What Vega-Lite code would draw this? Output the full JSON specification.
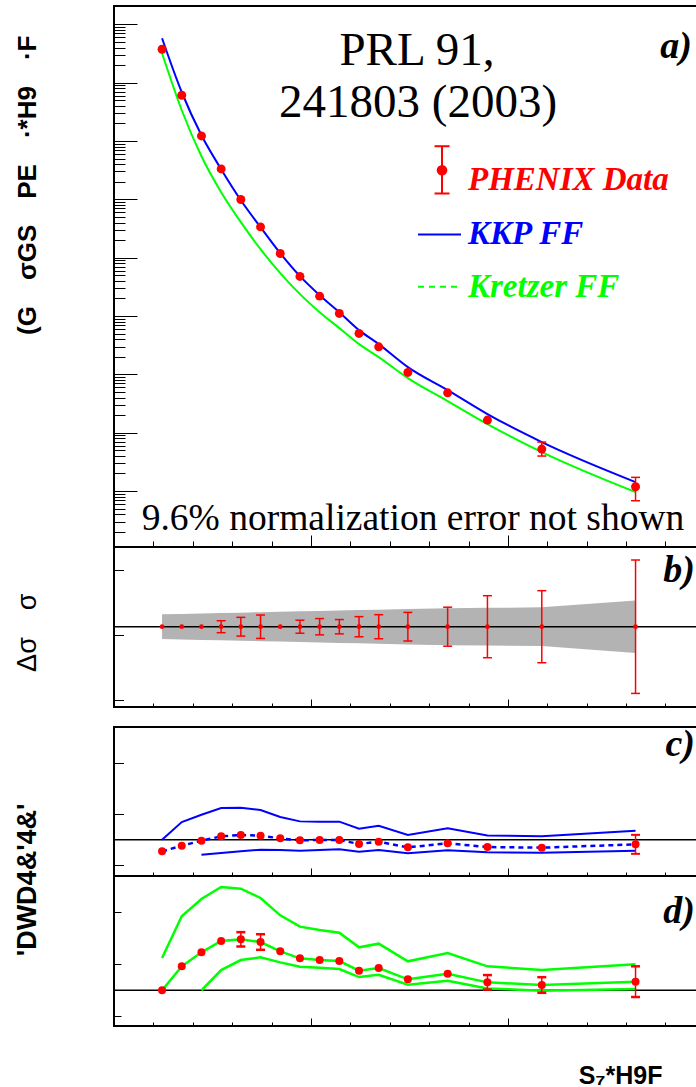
{
  "$schema": "https://vega.github.io/schema/vega-lite/v6.json",
  "padding": {"left": 12, "top": 5, "right": 0, "bottom": 0},
  "background": "#ffffff",
  "config": {
    "view": {"stroke": "#000000", "strokeWidth": 2},
    "axis": {"grid": false, "labels": false, "domain": false, "tickColor": "#000000", "tickWidth": 1}
  },
  "datasets": {
    "pts": [
      {"pt": 1.22, "a": 0.3729, "KKP FF": 0.5757, "Kretzer FF": 0.3185, "band_lo": -0.19, "band_hi": 0.19, "c": -0.227, "c_up": 0, "d": 0, "d_up": 0.622},
      {"pt": 1.72, "a": 0.06076, "KKP FF": 0.06842, "Kretzer FF": 0.03363, "band_lo": -0.197, "band_hi": 0.197, "c": -0.117, "c_up": 0.344, "d": 0.462, "d_up": 1.423},
      {"pt": 2.22, "a": 0.012207, "KKP FF": 0.012548, "Kretzer FF": 0.00548, "band_lo": -0.203, "band_hi": 0.203, "c": -0.02, "c_up": 0.487, "c_dn": -0.292, "d": 0.731, "d_up": 1.756, "d_dn": 0},
      {"pt": 2.72, "a": 0.00332, "KKP FF": 0.003281, "Kretzer FF": 0.001325, "band_lo": -0.21, "band_hi": 0.21, "b_elo": -0.092, "b_ehi": 0.092, "c": 0.065, "c_up": 0.617, "c_dn": -0.26, "d": 0.949, "d_up": 1.987, "d_dn": 0.391},
      {"pt": 3.22, "a": 0.0009931, "KKP FF": 0.000966, "Kretzer FF": 0.0004056, "band_lo": -0.216, "band_hi": 0.216, "b_elo": -0.144, "b_ehi": 0.144, "c": 0.091, "c_up": 0.623, "c_dn": -0.227, "d": 0.981, "d_up": 1.955, "d_dn": 0.583, "d_elo": 0.843, "d_ehi": 1.119},
      {"pt": 3.72, "a": 0.000337, "KKP FF": 0.000333, "Kretzer FF": 0.0001398, "band_lo": -0.223, "band_hi": 0.223, "b_elo": -0.18, "b_ehi": 0.18, "c": 0.078, "c_up": 0.578, "c_dn": -0.195, "d": 0.929, "d_up": 1.776, "d_dn": 0.635, "d_elo": 0.779, "d_ehi": 1.079},
      {"pt": 4.22, "a": 0.000118, "KKP FF": 0.0001194, "Kretzer FF": 0.0000543, "band_lo": -0.229, "band_hi": 0.229, "c": 0.026, "c_up": 0.442, "c_dn": -0.2, "d": 0.75, "d_up": 1.442, "d_dn": 0.538},
      {"pt": 4.72, "a": 0.00004763, "KKP FF": 0.0000482, "Kretzer FF": 0.0000237, "band_lo": -0.236, "band_hi": 0.236, "b_elo": -0.1, "b_ehi": 0.1, "c": -0.013, "c_up": 0.357, "c_dn": -0.214, "d": 0.615, "d_up": 1.224, "d_dn": 0.455},
      {"pt": 5.22, "a": 0.00002191, "KKP FF": 0.00002278, "Kretzer FF": 0.00001165, "band_lo": -0.242, "band_hi": 0.242, "b_elo": -0.125, "b_ehi": 0.125, "c": -0.006, "c_up": 0.351, "c_dn": -0.2, "d": 0.583, "d_up": 1.16, "d_dn": 0.436},
      {"pt": 5.72, "a": 0.00001107, "KKP FF": 0.00001165, "Kretzer FF": 0.0000062, "band_lo": -0.249, "band_hi": 0.249, "b_elo": -0.11, "b_ehi": 0.11, "c": -0.006, "c_up": 0.351, "c_dn": -0.188, "d": 0.564, "d_up": 1.109, "d_dn": 0.41},
      {"pt": 6.22, "a": 0.000005029, "KKP FF": 0.00000573, "Kretzer FF": 0.0000033, "band_lo": -0.256, "band_hi": 0.256, "b_elo": -0.155, "b_ehi": 0.155, "c": -0.084, "c_up": 0.214, "c_dn": -0.234, "d": 0.378, "d_up": 0.827, "d_dn": 0.256},
      {"pt": 6.72, "a": 0.000002965, "KKP FF": 0.0000033, "Kretzer FF": 0.000001974, "band_lo": -0.262, "band_hi": 0.262, "b_elo": -0.185, "b_ehi": 0.185, "c": -0.039, "c_up": 0.273, "c_dn": -0.201, "d": 0.429, "d_up": 0.897, "d_dn": 0.301},
      {"pt": 7.46, "a": 0.00000108, "KKP FF": 0.000001331, "Kretzer FF": 0.000000862, "band_lo": -0.272, "band_hi": 0.272, "b_elo": -0.22, "b_ehi": 0.22, "c": -0.149, "c_up": 0.091, "c_dn": -0.266, "d": 0.212, "d_up": 0.558, "d_dn": 0.109},
      {"pt": 8.47, "a": 0.000000483, "KKP FF": 0.000000537, "Kretzer FF": 0.000000348, "band_lo": -0.285, "band_hi": 0.285, "b_elo": -0.3, "b_ehi": 0.3, "c": -0.071, "c_up": 0.221, "c_dn": -0.208, "d": 0.321, "d_up": 0.718, "d_dn": 0.186},
      {"pt": 9.48, "a": 0.0000001646, "KKP FF": 0.0000002085, "Kretzer FF": 0.0000001405, "band_lo": -0.29, "band_hi": 0.29, "b_elo": -0.477, "b_ehi": 0.477, "c": -0.143, "c_up": 0.084, "c_dn": -0.247, "d": 0.154, "d_up": 0.462, "d_dn": 0.038, "d_elo": 0.014, "d_ehi": 0.294},
      {"pt": 10.86, "a": 0.00000005241, "a_lo": 0.0000000398, "a_hi": 0.0000000691, "KKP FF": 0.0000000691, "Kretzer FF": 0.0000000466, "band_lo": -0.298, "band_hi": 0.298, "b_elo": -0.554, "b_ehi": 0.554, "c": -0.156, "c_up": 0.065, "c_dn": -0.253, "d": 0.103, "d_up": 0.391, "d_dn": -0.006, "d_elo": -0.047, "d_ehi": 0.253},
      {"pt": 13.24, "a": 0.00000001185, "a_lo": 0.00000000682, "a_hi": 0.00000001717, "KKP FF": 0.00000001426, "Kretzer FF": 0.00000000961, "band_lo": -0.405, "band_hi": 0.405, "b_elo": -1.026, "b_ehi": 1.026, "c": -0.091, "c_up": 0.175, "c_dn": -0.214, "c_elo": -0.276, "c_ehi": 0.094, "d": 0.167, "d_up": 0.5, "d_dn": 0.026, "d_elo": -0.128, "d_ehi": 0.462}
    ]
  },
  "bounds": "full",
  "spacing": 15,
  "resolve": {"scale": {"x": "independent", "y": "independent"}},
  "vconcat": [
    {
      "bounds": "flush",
      "spacing": 0,
      "resolve": {"scale": {"x": "independent", "y": "independent"}},
      "vconcat": [
        {
          "width": 583,
          "height": 541,
          "data": {"name": "pts"},
          "encoding": {
            "x": {"field": "pt", "type": "quantitative", "scale": {"domain": [0, 14.8], "nice": false, "zero": false},
              "axis": {"values": [1,2,3,4,5,6,7,8,9,10,11,12,13,14], "tickSize": {"condition": {"test": "datum.value % 5 === 0", "value": -12}, "value": -6}, "title": null}}
          },
          "layer": [
            {
              "transform": [{"fold": ["KKP FF", "Kretzer FF"], "as": ["series", "val"]}],
              "mark": {"type": "line", "interpolate": "monotone", "strokeWidth": 2},
              "encoding": {
                "y": {"field": "val", "type": "quantitative", "scale": {"type": "log", "domain": [1.099e-9, 2.058], "nice": false},
                  "axis": {
                    "values": [2e-9,3e-9,4e-9,5e-9,6e-9,7e-9,8e-9,9e-9,1e-8,2e-8,3e-8,4e-8,5e-8,6e-8,7e-8,8e-8,9e-8,1e-7,2e-7,3e-7,4e-7,5e-7,6e-7,7e-7,8e-7,9e-7,1e-6,2e-6,3e-6,4e-6,5e-6,6e-6,7e-6,8e-6,9e-6,1e-5,2e-5,3e-5,4e-5,5e-5,6e-5,7e-5,8e-5,9e-5,1e-4,2e-4,3e-4,4e-4,5e-4,6e-4,7e-4,8e-4,9e-4,0.001,0.002,0.003,0.004,0.005,0.006,0.007,0.008,0.009,0.01,0.02,0.03,0.04,0.05,0.06,0.07,0.08,0.09,0.1,0.2,0.3,0.4,0.5,0.6,0.7,0.8,0.9,1],
                    "tickSize": {"condition": {"test": "abs(log(datum.value)/LN10 - round(log(datum.value)/LN10)) < 0.01", "value": -23}, "value": -11},
                    "title": "(G\u2003σGS\u2003PE\u2003·*H9\u2003·F",
                    "titleFont": "Liberation Sans", "titleFontWeight": "bold", "titleFontSize": 26, "titleColor": "#000000",
                    "titleAngle": 270, "titleAlign": "right", "titleBaseline": "middle", "titleX": -87, "titleY": 29
                  }},
                "color": {"field": "series", "type": "nominal",
                  "scale": {"domain": ["KKP FF", "Kretzer FF"], "range": ["#0000ff", "#00ff00"]},
                  "legend": null}
              }
            },
            {
              "transform": [{"filter": "isValid(datum.a_lo)"}],
              "mark": {"type": "rule", "color": "#ff0000", "strokeWidth": 1.5},
              "encoding": {
                "y": {"field": "a_lo", "type": "quantitative", "scale": {"type": "log", "domain": [1.099e-9, 2.058], "nice": false}},
                "y2": {"field": "a_hi"}
              }
            },
            {
              "transform": [{"filter": "isValid(datum.a_lo)"}],
              "mark": {"type": "tick", "orient": "horizontal", "size": 9, "thickness": 1.5, "color": "#ff0000", "opacity": 1},
              "encoding": {"y": {"field": "a_lo", "type": "quantitative", "scale": {"type": "log", "domain": [1.099e-9, 2.058], "nice": false}}}
            },
            {
              "transform": [{"filter": "isValid(datum.a_hi)"}],
              "mark": {"type": "tick", "orient": "horizontal", "size": 9, "thickness": 1.5, "color": "#ff0000", "opacity": 1},
              "encoding": {"y": {"field": "a_hi", "type": "quantitative", "scale": {"type": "log", "domain": [1.099e-9, 2.058], "nice": false}}}
            },
            {
              "mark": {"type": "point", "filled": true, "size": 80, "color": "#ff0000", "opacity": 1},
              "encoding": {"y": {"field": "a", "type": "quantitative", "scale": {"type": "log", "domain": [1.099e-9, 2.058], "nice": false}}}
            },
            {
              "transform": [{"filter": "datum.pt === 1.22"}],
              "mark": {"type": "text", "text": "PRL 91,", "font": "Liberation Serif", "fontSize": 47, "align": "center", "baseline": "alphabetic", "color": "#000000"},
              "encoding": {"x": {"datum": 7.69}, "y": {"datum": 0.1985}}
            },
            {
              "transform": [{"filter": "datum.pt === 1.22"}],
              "mark": {"type": "text", "text": "241803 (2003)", "font": "Liberation Serif", "fontSize": 47, "align": "center", "baseline": "alphabetic", "color": "#000000"},
              "encoding": {"x": {"datum": 7.72}, "y": {"datum": 0.02582}}
            },
            {
              "transform": [{"filter": "datum.pt === 1.22"}],
              "mark": {"type": "text", "text": "a)", "font": "Liberation Serif", "fontSize": 38, "fontStyle": "italic", "fontWeight": "bold", "align": "right", "baseline": "alphabetic", "color": "#000000"},
              "encoding": {"x": {"datum": 14.67}, "y": {"datum": 0.2618}}
            },
            {
              "transform": [{"filter": "datum.pt === 1.22"}],
              "mark": {"type": "text", "text": "9.6% normalization error not shown", "font": "Liberation Serif", "fontSize": 37.5, "align": "center", "baseline": "alphabetic", "color": "#000000"},
              "encoding": {"x": {"datum": 7.59}, "y": {"datum": 2.148e-9}}
            },
            {
              "transform": [{"filter": "datum.pt === 1.22"}],
              "mark": {"type": "rule", "color": "#ff0000", "strokeWidth": 2},
              "encoding": {"x": {"datum": 8.327}, "y": {"datum": 0.00813}, "y2": {"datum": 0.001259}}
            },
            {
              "transform": [{"filter": "datum.pt === 1.22"}],
              "mark": {"type": "tick", "orient": "horizontal", "size": 15, "thickness": 2, "color": "#ff0000", "opacity": 1},
              "encoding": {"x": {"datum": 8.327}, "y": {"datum": 0.00813}}
            },
            {
              "transform": [{"filter": "datum.pt === 1.22"}],
              "mark": {"type": "tick", "orient": "horizontal", "size": 15, "thickness": 2, "color": "#ff0000", "opacity": 1},
              "encoding": {"x": {"datum": 8.327}, "y": {"datum": 0.001259}}
            },
            {
              "transform": [{"filter": "datum.pt === 1.22"}],
              "mark": {"type": "point", "filled": true, "size": 113, "color": "#ff0000", "opacity": 1},
              "encoding": {"x": {"datum": 8.327}, "y": {"datum": 0.003155}}
            },
            {
              "transform": [{"filter": "datum.pt === 1.22"}],
              "mark": {"type": "rule", "color": "#0000ff", "strokeWidth": 2},
              "encoding": {"x": {"datum": 7.718}, "x2": {"datum": 8.809}, "y": {"datum": 0.0002496}}
            },
            {
              "transform": [{"filter": "datum.pt === 1.22"}],
              "mark": {"type": "rule", "color": "#00ff00", "strokeWidth": 2, "strokeDash": [6, 5]},
              "encoding": {"x": {"datum": 7.718}, "x2": {"datum": 8.809}, "y": {"datum": 0.00003162}}
            },
            {
              "transform": [{"filter": "datum.pt === 1.22"}],
              "mark": {"type": "text", "text": "PHENIX Data", "font": "Liberation Serif", "fontSize": 33, "fontStyle": "italic", "fontWeight": "bold", "align": "left", "baseline": "middle", "color": "#ff0000"},
              "encoding": {"x": {"datum": 8.987}, "y": {"datum": 0.002128}}
            },
            {
              "transform": [{"filter": "datum.pt === 1.22"}],
              "mark": {"type": "text", "text": "KKP FF", "font": "Liberation Serif", "fontSize": 33, "fontStyle": "italic", "fontWeight": "bold", "align": "left", "baseline": "middle", "color": "#0000ff"},
              "encoding": {"x": {"datum": 8.987}, "y": {"datum": 0.0002577}}
            },
            {
              "transform": [{"filter": "datum.pt === 1.22"}],
              "mark": {"type": "text", "text": "Kretzer FF", "font": "Liberation Serif", "fontSize": 33, "fontStyle": "italic", "fontWeight": "bold", "align": "left", "baseline": "middle", "color": "#00ff00"},
              "encoding": {"x": {"datum": 8.987}, "y": {"datum": 0.00003125}}
            }
          ]
        },
        {
          "width": 583,
          "height": 160,
          "data": {"name": "pts"},
          "encoding": {
            "x": {"field": "pt", "type": "quantitative", "scale": {"domain": [0, 14.8], "nice": false, "zero": false},
              "axis": {"values": [1,2,3,4,5,6,7,8,9,10,11,12,13,14], "tickSize": {"condition": {"test": "datum.value % 5 === 0", "value": -8}, "value": -4}, "title": null}}
          },
          "layer": [
            {
              "mark": {"type": "area", "color": "#b3b3b3", "opacity": 1},
              "encoding": {
                "y": {"field": "band_lo", "type": "quantitative", "scale": {"domain": [-1.235, 1.226], "nice": false, "zero": false},
                  "axis": {
                    "values": [-1.125,-1,-0.875,-0.75,-0.625,-0.5,-0.375,-0.25,-0.125,0,0.125,0.25,0.375,0.5,0.625,0.75,0.875,1,1.125],
                    "tickSize": {"condition": {"test": "abs(datum.value*2 - round(datum.value*2)) < 0.001", "value": -19}, "value": -9.5},
                    "tickWidth": {"condition": {"test": "abs(abs(datum.value) - 1) < 0.001", "value": 2.5}, "value": 1},
                    "title": "Δσ\u2003σ",
                    "titleFont": "Liberation Sans", "titleFontWeight": "normal", "titleFontSize": 27, "titleColor": "#000000",
                    "titleAngle": 270, "titleAlign": "right", "titleBaseline": "middle", "titleX": -86.5, "titleY": 46
                  }},
                "y2": {"field": "band_hi"}
              }
            },
            {
              "transform": [{"filter": "datum.pt === 1.22"}],
              "mark": {"type": "rule", "color": "#000000", "strokeWidth": 1.5},
              "encoding": {"x": {"datum": 0}, "x2": {"datum": 14.8}, "y": {"datum": 0, "scale": {"domain": [-1.235, 1.226], "nice": false, "zero": false}}}
            },
            {
              "transform": [{"filter": "isValid(datum.b_elo)"}],
              "mark": {"type": "rule", "color": "#ff0000", "strokeWidth": 1.5},
              "encoding": {"y": {"field": "b_elo", "type": "quantitative", "scale": {"domain": [-1.235, 1.226], "nice": false, "zero": false}}, "y2": {"field": "b_ehi"}}
            },
            {
              "transform": [{"filter": "isValid(datum.b_elo)"}],
              "mark": {"type": "tick", "orient": "horizontal", "size": 9, "thickness": 1.5, "color": "#ff0000", "opacity": 1},
              "encoding": {"y": {"field": "b_elo", "type": "quantitative", "scale": {"domain": [-1.235, 1.226], "nice": false, "zero": false}}}
            },
            {
              "transform": [{"filter": "isValid(datum.b_ehi)"}],
              "mark": {"type": "tick", "orient": "horizontal", "size": 9, "thickness": 1.5, "color": "#ff0000", "opacity": 1},
              "encoding": {"y": {"field": "b_ehi", "type": "quantitative", "scale": {"domain": [-1.235, 1.226], "nice": false, "zero": false}}}
            },
            {
              "transform": [{"filter": "datum.pt === 1.22"}],
              "mark": {"type": "text", "text": "b)", "font": "Liberation Serif", "fontSize": 38, "fontStyle": "italic", "fontWeight": "bold", "align": "right", "baseline": "alphabetic", "color": "#000000"},
              "encoding": {"x": {"datum": 14.75}, "y": {"datum": 0.688}}
            },
            {
              "mark": {"type": "point", "filled": true, "size": 22, "color": "#ff0000", "opacity": 1},
              "encoding": {"y": {"datum": 0, "scale": {"domain": [-1.235, 1.226], "nice": false, "zero": false}}}
            }
          ]
        }
      ]
    },
    {
      "bounds": "flush",
      "spacing": 0,
      "resolve": {"scale": {"x": "independent", "y": "independent"}},
      "vconcat": [
        {
          "width": 583,
          "height": 149,
          "data": {"name": "pts"},
          "encoding": {
            "x": {"field": "pt", "type": "quantitative", "scale": {"domain": [0, 14.8], "nice": false, "zero": false},
              "axis": {"values": [1,2,3,4,5,6,7,8,9,10,11,12,13,14], "tickSize": {"condition": {"test": "datum.value % 5 === 0", "value": -8}, "value": -4}, "title": null}}
          },
          "layer": [
            {
              "transform": [{"filter": "datum.pt === 1.22"}],
              "mark": {"type": "rule", "color": "#000000", "strokeWidth": 1.5},
              "encoding": {"x": {"datum": 0}, "x2": {"datum": 14.8},
                "y": {"datum": 0, "scale": {"domain": [-0.708, 2.197], "nice": false, "zero": false},
                  "axis": {
                    "values": [-0.5,-0.25,0,0.25,0.5,0.75,1,1.25,1.5,1.75,2],
                    "tickSize": {"condition": {"test": "abs(datum.value - round(datum.value)) < 0.001", "value": -20}, "value": -9.5},
                    "title": "'DWD4&'4&'",
                    "titleFont": "Liberation Sans", "titleFontWeight": "bold", "titleFontSize": 27, "titleColor": "#000000",
                    "titleAngle": 270, "titleAlign": "right", "titleBaseline": "middle", "titleX": -86.5, "titleY": 76
                  }}}
            },
            {
              "mark": {"type": "line", "color": "#0000ff", "strokeWidth": 2},
              "encoding": {"y": {"field": "c_up", "type": "quantitative", "scale": {"domain": [-0.708, 2.197], "nice": false, "zero": false}}}
            },
            {
              "transform": [{"filter": "isValid(datum.c_dn)"}],
              "mark": {"type": "line", "color": "#0000ff", "strokeWidth": 2},
              "encoding": {"y": {"field": "c_dn", "type": "quantitative", "scale": {"domain": [-0.708, 2.197], "nice": false, "zero": false}}}
            },
            {
              "mark": {"type": "line", "color": "#0000ff", "strokeWidth": 2.5, "strokeDash": [5, 4]},
              "encoding": {"y": {"field": "c", "type": "quantitative", "scale": {"domain": [-0.708, 2.197], "nice": false, "zero": false}}}
            },
            {
              "transform": [{"filter": "isValid(datum.c_elo)"}],
              "mark": {"type": "rule", "color": "#ff0000", "strokeWidth": 1.5},
              "encoding": {"y": {"field": "c_elo", "type": "quantitative", "scale": {"domain": [-0.708, 2.197], "nice": false, "zero": false}}, "y2": {"field": "c_ehi"}}
            },
            {
              "transform": [{"filter": "isValid(datum.c_elo)"}],
              "mark": {"type": "tick", "orient": "horizontal", "size": 9, "thickness": 2, "color": "#ff0000", "opacity": 1},
              "encoding": {"y": {"field": "c_elo", "type": "quantitative", "scale": {"domain": [-0.708, 2.197], "nice": false, "zero": false}}}
            },
            {
              "transform": [{"filter": "isValid(datum.c_ehi)"}],
              "mark": {"type": "tick", "orient": "horizontal", "size": 9, "thickness": 2, "color": "#ff0000", "opacity": 1},
              "encoding": {"y": {"field": "c_ehi", "type": "quantitative", "scale": {"domain": [-0.708, 2.197], "nice": false, "zero": false}}}
            },
            {
              "mark": {"type": "point", "filled": true, "size": 64, "color": "#ff0000", "opacity": 1},
              "encoding": {"y": {"field": "c", "type": "quantitative", "scale": {"domain": [-0.708, 2.197], "nice": false, "zero": false}}}
            },
            {
              "transform": [{"filter": "datum.pt === 1.22"}],
              "mark": {"type": "text", "text": "c)", "font": "Liberation Serif", "fontSize": 38, "fontStyle": "italic", "fontWeight": "bold", "align": "right", "baseline": "alphabetic", "color": "#000000"},
              "encoding": {"x": {"datum": 14.75}, "y": {"datum": 1.632}}
            }
          ]
        },
        {
          "width": 583,
          "height": 150,
          "data": {"name": "pts"},
          "encoding": {
            "x": {"field": "pt", "type": "quantitative", "scale": {"domain": [0, 14.8], "nice": false, "zero": false},
              "axis": {"values": [1,2,3,4,5,6,7,8,9,10,11,12,13,14], "tickSize": {"condition": {"test": "datum.value % 5 === 0", "value": -8}, "value": -4},
                "title": "S₇*H9F", "titleFont": "Liberation Sans", "titleFontWeight": "bold", "titleFontSize": 25, "titleColor": "#000000",
                "titleAngle": 0, "titleAlign": "right", "titleBaseline": "alphabetic", "titleX": 548, "titleY": 57}}
          },
          "layer": [
            {
              "transform": [{"filter": "datum.pt === 1.22"}],
              "mark": {"type": "rule", "color": "#000000", "strokeWidth": 1.5},
              "encoding": {"x": {"datum": 0}, "x2": {"datum": 14.8},
                "y": {"datum": 0, "scale": {"domain": [-0.685, 2.198], "nice": false, "zero": false},
                  "axis": {
                    "values": [-0.5,-0.25,0,0.25,0.5,0.75,1,1.25,1.5,1.75,2],
                    "tickSize": {"condition": {"test": "abs(datum.value - round(datum.value)) < 0.001", "value": -16}, "value": -7},
                    "title": null
                  }}}
            },
            {
              "mark": {"type": "line", "color": "#00ff00", "strokeWidth": 2.5},
              "encoding": {"y": {"field": "d_up", "type": "quantitative", "scale": {"domain": [-0.685, 2.198], "nice": false, "zero": false}}}
            },
            {
              "transform": [{"filter": "isValid(datum.d_dn)"}],
              "mark": {"type": "line", "color": "#00ff00", "strokeWidth": 2.5},
              "encoding": {"y": {"field": "d_dn", "type": "quantitative", "scale": {"domain": [-0.685, 2.198], "nice": false, "zero": false}}}
            },
            {
              "mark": {"type": "line", "color": "#00ff00", "strokeWidth": 2.5},
              "encoding": {"y": {"field": "d", "type": "quantitative", "scale": {"domain": [-0.685, 2.198], "nice": false, "zero": false}}}
            },
            {
              "transform": [{"filter": "isValid(datum.d_elo)"}],
              "mark": {"type": "rule", "color": "#ff0000", "strokeWidth": 1.5},
              "encoding": {"y": {"field": "d_elo", "type": "quantitative", "scale": {"domain": [-0.685, 2.198], "nice": false, "zero": false}}, "y2": {"field": "d_ehi"}}
            },
            {
              "transform": [{"filter": "isValid(datum.d_elo)"}],
              "mark": {"type": "tick", "orient": "horizontal", "size": 9, "thickness": 2.5, "color": "#ff0000", "opacity": 1},
              "encoding": {"y": {"field": "d_elo", "type": "quantitative", "scale": {"domain": [-0.685, 2.198], "nice": false, "zero": false}}}
            },
            {
              "transform": [{"filter": "isValid(datum.d_ehi)"}],
              "mark": {"type": "tick", "orient": "horizontal", "size": 9, "thickness": 2.5, "color": "#ff0000", "opacity": 1},
              "encoding": {"y": {"field": "d_ehi", "type": "quantitative", "scale": {"domain": [-0.685, 2.198], "nice": false, "zero": false}}}
            },
            {
              "mark": {"type": "point", "filled": true, "size": 64, "color": "#ff0000", "opacity": 1},
              "encoding": {"y": {"field": "d", "type": "quantitative", "scale": {"domain": [-0.685, 2.198], "nice": false, "zero": false}}}
            },
            {
              "transform": [{"filter": "datum.pt === 1.22"}],
              "mark": {"type": "text", "text": "d)", "font": "Liberation Serif", "fontSize": 38, "fontStyle": "italic", "fontWeight": "bold", "align": "right", "baseline": "alphabetic", "color": "#000000"},
              "encoding": {"x": {"datum": 14.75}, "y": {"datum": 1.294}}
            }
          ]
        }
      ]
    }
  ]
}
